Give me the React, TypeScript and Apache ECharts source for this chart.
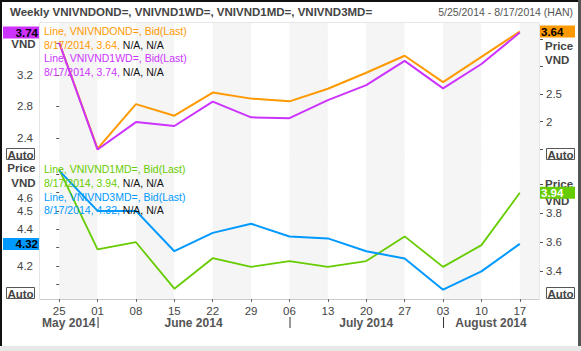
import React, { useEffect, useRef } from 'react';
import * as echarts from 'echarts';

// ---- data ----
const categories = ['25', '01', '08', '15', '22', '29', '06', '13', '20', '27', '03', '10', '17'];
const monthNames = ['May 2014', 'June 2014', 'July 2014', 'August 2014'];
const monthStarts = [0, 1, 6, 10];
const lastDate = '8/17/2014';
const titleText = 'Weekly VNIVNDOND=, VNIVND1WD=, VNIVND1MD=, VNIVND3MD=';
const rangeText = '5/25/2014 - 8/17/2014 (HAN)';

const overnightName = 'VNIVNDOND=';
const oneWeekName = 'VNIVND1WD=';
const oneMonthName = 'VNIVND1MD=';
const threeMonthName = 'VNIVND3MD=';

const overnight = [3.44, 1.51, 2.32, 2.11, 2.53, 2.42, 2.37, 2.6, 2.89, 3.2, 2.72, 3.18, 3.64];
const oneWeek = [3.61, 2.25, 2.6, 2.55, 2.86, 2.66, 2.65, 2.88, 3.07, 3.38, 3.03, 3.34, 3.74];
const oneMonth = [4.1, 3.55, 3.6, 3.28, 3.49, 3.43, 3.47, 3.43, 3.47, 3.64, 3.43, 3.58, 3.94];
const threeMonth = [4.72, 4.5, 4.5, 4.28, 4.38, 4.43, 4.36, 4.35, 4.28, 4.24, 4.07, 4.17, 4.32];

// tick values shown as labels on each axis
const topLeftTicks = [2.4, 2.8, 3.2];
const topRightTicks = [2, 2.5];
const botLeftTicks = [4.2, 4.4, 4.5, 4.6];
const botRightTicks = [3.4, 3.6, 3.8];
const shiftedTicks = [4.6];

const FONT = "'Liberation Sans', Arial, sans-serif";
const C = { orange: '#ff9900', purple: '#cc33ff', green: '#66cc00', blue: '#0099ff' };

export default function App() {
  const ref = useRef<HTMLDivElement>(null);
  useEffect(() => {
    document.body.style.margin = '0';
    const chart = echarts.init(ref.current!, null, { renderer: 'svg' });

    const has = (arr: number[], v: number) => arr.some((s) => Math.abs(s - v) < 1e-6);
    const fmt = (show: number[]) => (v: number) => {
      if (!has(show, v)) return '';
      const s = String(parseFloat(v.toFixed(2)));
      return has(shiftedTicks, v) ? `{low|${s}}` : s;
    };

    const bandAxis = (gridIndex: number) => ({
      type: 'value', gridIndex, min: -0.5, max: 12.5, splitNumber: 13, minInterval: 1, maxInterval: 1,
      axisLine: { show: false }, axisTick: { show: false }, axisLabel: { show: false },
      splitLine: { show: false },
      splitArea: { show: true, areaStyle: { color: ['#ffffff', '#f5f5f5'] } },
    });

    const yAxisBase = (gridIndex: number, position: 'left' | 'right', min: number, max: number, step: number, show: number[], grid: boolean) => ({
      type: 'value', gridIndex, position, min, max, minInterval: step, maxInterval: step, splitNumber: 5,
      offset: position === 'left' ? 2 : 1,
      axisLine: { show: false },
      axisTick: { show: true, length: 3, lineStyle: { color: '#555' } },
      axisLabel: {
        formatter: fmt(show), color: '#444', fontSize: 11.5, fontFamily: FONT, margin: position === 'left' ? 5 : 6,
        showMinLabel: false, showMaxLabel: false,
        rich: { low: { padding: [10, 0, 0, 0], color: '#444', fontSize: 11.5, fontFamily: FONT } },
      },
      splitLine: { show: grid, lineStyle: { color: '#ececec', width: 1 } },
    });

    chart.setOption({
      animation: false,
      backgroundColor: '#ffffff',
      title: [
        { text: titleText, left: 10, top: 6, padding: 0, textStyle: { fontSize: 11.5, fontWeight: 'bold', color: '#444', fontFamily: FONT } },
        { text: rangeText, right: 8, top: 6, padding: 0, textStyle: { fontSize: 10.5, fontWeight: 'normal', color: '#555', fontFamily: FONT } },
      ],
      grid: [
        { left: 40, right: 42, top: 23, height: 137, show: true, borderColor: '#cccccc', borderWidth: 1, backgroundColor: 'transparent' },
        { left: 40, right: 42, top: 160, height: 139, show: true, borderColor: '#cccccc', borderWidth: 1, backgroundColor: 'transparent' },
      ],
      xAxis: [
        { type: 'category', gridIndex: 0, data: categories, boundaryGap: true, axisLine: { show: false }, axisTick: { show: false }, axisLabel: { show: false } },
        {
          type: 'category', gridIndex: 1, data: categories, boundaryGap: true,
          axisLine: { show: true, lineStyle: { color: '#cccccc' } },
          axisTick: { show: true, alignWithLabel: true, length: 3, lineStyle: { color: '#666' } },
          axisLabel: { color: '#444', fontSize: 11.5, fontFamily: FONT, margin: 6 },
        },
        bandAxis(0),
        bandAxis(1),
      ],
      yAxis: [
        yAxisBase(0, 'left', 2.117, 3.862, 0.4, topLeftTicks, false),
        yAxisBase(0, 'right', 1.304, 3.795, 0.5, topRightTicks, true),
        yAxisBase(1, 'left', 4.019, 4.778, 0.1, botLeftTicks, false),
        yAxisBase(1, 'right', 3.209, 4.166, 0.2, botRightTicks, true),
      ],
      series: [
        { name: overnightName, type: 'line', xAxisIndex: 0, yAxisIndex: 1, data: overnight, symbol: 'none', lineStyle: { color: C.orange, width: 2 }, z: 3 },
        { name: oneWeekName, type: 'line', xAxisIndex: 0, yAxisIndex: 0, data: oneWeek, symbol: 'none', lineStyle: { color: C.purple, width: 2 }, z: 4 },
        { name: oneMonthName, type: 'line', xAxisIndex: 1, yAxisIndex: 3, data: oneMonth, symbol: 'none', lineStyle: { color: C.green, width: 1.8 }, z: 3 },
        { name: threeMonthName, type: 'line', xAxisIndex: 1, yAxisIndex: 2, data: threeMonth, symbol: 'none', lineStyle: { color: C.blue, width: 2 }, z: 4 },
      ],
    });

    const px = (finder: any, v: any) => chart.convertToPixel(finder, v) as number;
    const plotL = px({ xAxisIndex: 2 }, -0.5);
    const plotR = px({ xAxisIndex: 2 }, 12.5);
    const catX = (i: number) => px({ xAxisIndex: 1 }, i);

    const g: any[] = [];
    const txt = (x: number, y: number, text: string, fill: string, opts: any = {}) => ({
      type: 'text', x, y, z: 50,
      style: {
        text, fill, font: `${opts.weight || 'normal'} ${opts.size || 10.5}px ${FONT}`,
        align: opts.align || 'left', textAlign: opts.align || 'left',
        verticalAlign: 'middle', textVerticalAlign: 'middle', rich: opts.rich,
      },
    });

    // legends
    const legend = (y0: number, name: string, color: string, last: number) => {
      const rich = {
        c: { fill: color, color, font: `10.5px ${FONT}` },
        k: { fill: '#111', color: '#111', font: `10.5px ${FONT}` },
      };
      g.push(txt(plotL + 4, y0, `Line, ${name}, Bid(Last)`, color));
      g.push(txt(plotL + 4, y0 + 13.5, `{c|${lastDate}, ${last.toFixed(2)}, }{k|N/A, N/A}`, color, { rich }));
    };
    legend(31, overnightName, C.orange, overnight[overnight.length - 1]);
    legend(58.3, oneWeekName, C.purple, oneWeek[oneWeek.length - 1]);
    legend(169, oneMonthName, C.green, oneMonth[oneMonth.length - 1]);
    legend(196.7, threeMonthName, C.blue, threeMonth[threeMonth.length - 1]);

    // Price / VND labels
    const bold = { weight: 'bold', size: 11.5 };
    g.push(txt(35.5, 44.3, 'VND', '#444', { ...bold, align: 'right' }));
    g.push(txt(plotR + 6, 46, 'Price', '#444', bold));
    g.push(txt(plotR + 6, 60, 'VND', '#444', bold));
    g.push(txt(35.5, 168, 'Price', '#444', { ...bold, align: 'right' }));
    g.push(txt(35.5, 182.5, 'VND', '#444', { ...bold, align: 'right' }));
    g.push(txt(plotR + 6, 184, 'Price', '#444', bold));
    g.push(txt(plotR + 6, 200.5, 'VND', '#444', bold));

    // last value boxes
    const valBox = (side: 'left' | 'right', yAxisIndex: number, v: number, color: string, textColor: string) => {
      const y = px({ yAxisIndex }, v);
      const x = side === 'left' ? 3 : plotR + 1;
      const w = side === 'left' ? plotL - 4 : 35;
      g.push({ type: 'rect', z: 60, shape: { x, y: y - 6, width: w, height: 12 }, style: { fill: color } });
      const t = txt(side === 'left' ? x + w - 1 : x + 1, y + 0.5, v.toFixed(2), textColor, { weight: 'bold', size: 11.5, align: side === 'left' ? 'right' : 'left' });
      t.z = 61;
      g.push(t);
    };
    valBox('left', 0, oneWeek[oneWeek.length - 1], C.purple, '#000');
    valBox('right', 1, overnight[overnight.length - 1], C.orange, '#000');
    valBox('left', 2, threeMonth[threeMonth.length - 1], C.blue, '#000');
    valBox('right', 3, oneMonth[oneMonth.length - 1], C.green, '#fff');

    // Auto boxes
    const auto = (x: number, y: number) => {
      g.push({ type: 'rect', z: 60, shape: { x: x + 0.5, y: y + 0.5, width: 28, height: 11 }, style: { fill: '#fff', stroke: '#555', lineWidth: 1 } });
      const t = txt(x + 14.5, y + 6.5, 'Auto', '#444', { weight: 'bold', size: 11.5, align: 'center' });
      t.z = 61;
      g.push(t);
    };
    auto(6, 148);
    auto(plotR + 7, 148);
    auto(6, 287);
    auto(plotR + 7, 287);

    // months
    for (let m = 0; m < monthNames.length; m++) {
      const a = m === 0 ? plotL : catX(monthStarts[m]);
      const b = m + 1 < monthNames.length ? catX(monthStarts[m + 1]) : plotR;
      g.push(txt((a + b) / 2, 323, monthNames[m], '#555', { weight: 'bold', size: 12, align: 'center' }));
      if (m > 0) {
        g.push({ type: 'line', z: 50, shape: { x1: a + 0.5, y1: 317, x2: a + 0.5, y2: 328 }, style: { stroke: '#333', lineWidth: 1 } });
      }
    }

    // frame
    g.push({ type: 'rect', z: 70, shape: { x: 0, y: 0, width: 581, height: 2 }, style: { fill: '#111' } });
    g.push({ type: 'rect', z: 70, shape: { x: 0, y: 0, width: 2, height: 351 }, style: { fill: '#111' } });
    g.push({ type: 'rect', z: 70, shape: { x: 578, y: 0, width: 3, height: 351 }, style: { fill: '#555' } });
    g.push({ type: 'rect', z: 70, shape: { x: 0, y: 346, width: 581, height: 5 }, style: { fill: '#e8e8e8' } });

    chart.setOption({ graphic: g });

    return () => chart.dispose();
  }, []);
  return <div ref={ref} style={{ width: 581, height: 351 }} />;
}
